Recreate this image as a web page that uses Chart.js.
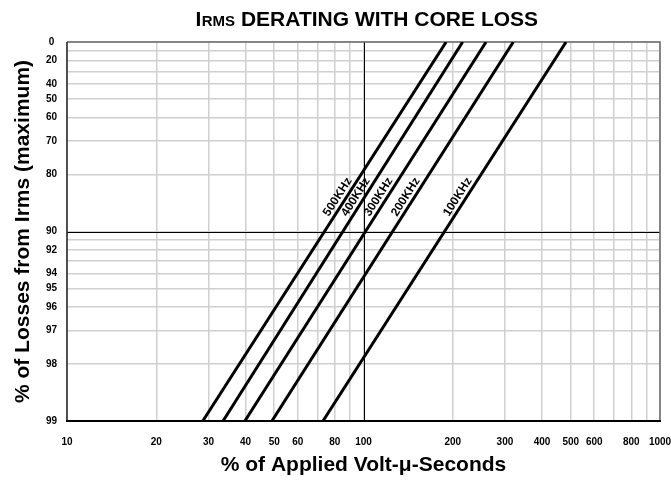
<!DOCTYPE html>
<html>
<head>
<meta charset="utf-8">
<script src="https://cdn.jsdelivr.net/npm/chart.js@4/dist/chart.umd.min.js"></script>
<style>
  html, body { margin: 0; padding: 0; background: #fff; }
  #wrap { width: 671px; height: 481px; }
</style>
</head>
<body>
<div id="wrap"><canvas id="c" width="671" height="481"></canvas></div>
<script>
// ---- data ----
const lossAtEnds = [0, 99];                 // % of losses at the two ends of each line
const volt500 = [190, 28.7];                // % applied volt-µs at those losses
const volt400 = [216, 33.6];
const volt300 = [259, 39.8];
const volt200 = [320, 49.1];
const volt100 = [482, 73.0];
const seriesNames = ['500KHz', '400KHz', '300KHz', '200KHz', '100KHz'];
const labelAtLoss = 85.5;                   // where the frequency labels sit along the lines

const xTickValues = [10, 20, 30, 40, 50, 60, 70, 80, 90, 100, 200, 300, 400, 500, 600, 700, 800, 900, 1000];
const xTickLabels = [10, 20, 30, 40, 50, 60, 80, 100, 200, 300, 400, 500, 600, 800, 1000];
const yTickValues = [0, 10, 20, 30, 40, 50, 60, 70, 80, 90, 91, 92, 93, 94, 95, 96, 97, 98, 99];
const yTickLabels = [0, 20, 40, 50, 60, 70, 80, 90, 92, 94, 95, 96, 97, 98, 99];
const xRefLine = 100;   // dark reference line on the x axis
const yRefLine = 90;    // dark reference line on the loss axis

const chartTitleMain = 'I';
const chartTitleSmall = 'RMS';
const chartTitleRest = ' DERATING WITH CORE LOSS';
const xTitle = '% of Applied Volt-\u03bc-Seconds';
const yTitle = '% of Losses from Irms (maximum)';

const FONT = '"Liberation Sans", Arial, Helvetica, sans-serif';

const allVolts = [volt500, volt400, volt300, volt200, volt100];
const datasets = allVolts.map((arr, k) => ({
  label: seriesNames[k],
  data: arr.map((v, i) => ({ x: v, y: 100 - lossAtEnds[i] })),
  borderColor: '#000',
  borderWidth: 3,
  pointRadius: 0,
  fill: false,
  tension: 0
}));

const titlePlugin = {
  id: 'titlePlugin',
  afterDraw(chart) {
    const ctx = chart.ctx;
    const ca = chart.chartArea;
    ctx.save();
    ctx.fillStyle = '#000';
    ctx.textBaseline = 'alphabetic';
    ctx.textAlign = 'left';
    const big = 'bold 21px ' + FONT, small = 'bold 15px ' + FONT;
    ctx.font = big; const w1 = ctx.measureText(chartTitleMain).width;
    ctx.font = small; const w2 = ctx.measureText(chartTitleSmall).width;
    ctx.font = big; const w3 = ctx.measureText(chartTitleRest).width;
    let x = (ca.left + ca.right) / 2 + 3 - (w1 + w2 + w3) / 2;
    const y = 26;
    ctx.font = big; ctx.fillText(chartTitleMain, x, y); x += w1 + 0.5;
    ctx.font = small; ctx.fillText(chartTitleSmall, x, y); x += w2;
    ctx.font = big; ctx.fillText(chartTitleRest, x, y);
    ctx.restore();
  }
};

const borderPlugin = {
  id: 'borderPlugin',
  beforeDatasetsDraw(chart) {
    const ctx = chart.ctx;
    const { left, right, top, bottom } = chart.chartArea;
    const xs = chart.scales.x, ys = chart.scales.y;
    ctx.save();
    // reference lines
    ctx.lineWidth = 1;
    ctx.strokeStyle = '#000';
    const rx = Math.round(xs.getPixelForValue(xRefLine)) + 0.5;
    const ry = Math.round(ys.getPixelForValue(100 - yRefLine)) + 0.5;
    ctx.beginPath(); ctx.moveTo(rx, top); ctx.lineTo(rx, bottom); ctx.stroke();
    ctx.beginPath(); ctx.moveTo(left, ry); ctx.lineTo(right, ry); ctx.stroke();
    // frame
    ctx.lineWidth = 1.5;
    ctx.strokeStyle = '#6a6a6a';
    ctx.beginPath();
    ctx.moveTo(left, top); ctx.lineTo(right, top); ctx.lineTo(right, bottom);
    ctx.stroke();
    ctx.strokeStyle = '#222';
    ctx.beginPath(); ctx.moveTo(left, top); ctx.lineTo(left, bottom); ctx.stroke();
    ctx.lineWidth = 2;
    ctx.strokeStyle = '#000';
    ctx.beginPath(); ctx.moveTo(left - 1, bottom); ctx.lineTo(right + 1, bottom); ctx.stroke();
    ctx.restore();
  }
};

const lineLabelPlugin = {
  id: 'lineLabelPlugin',
  afterDatasetsDraw(chart) {
    const ctx = chart.ctx;
    const xs = chart.scales.x, ys = chart.scales.y;
    ctx.save();
    ctx.font = 'bold 12px ' + FONT;
    ctx.fillStyle = '#000';
    ctx.textAlign = 'center';
    ctx.textBaseline = 'middle';
    chart.data.datasets.forEach(ds => {
      const p0 = ds.data[0], p1 = ds.data[1];
      const x0 = xs.getPixelForValue(p0.x), y0 = ys.getPixelForValue(p0.y);
      const x1 = xs.getPixelForValue(p1.x), y1 = ys.getPixelForValue(p1.y);
      const ly = ys.getPixelForValue(100 - labelAtLoss);
      const t = (ly - y0) / (y1 - y0);
      const lx = x0 + (x1 - x0) * t;
      const ang = Math.atan2(y0 - y1, x0 - x1); // direction going up-right
      ctx.save();
      ctx.translate(lx, ly);
      ctx.rotate(ang);
      ctx.fillText(ds.label, 0, -7.5);
      ctx.restore();
    });
    ctx.restore();
  }
};

new Chart(document.getElementById('c'), {
  type: 'line',
  data: { datasets },
  plugins: [borderPlugin, lineLabelPlugin, titlePlugin],
  options: {
    responsive: false,
    animation: false,
    events: [],
    layout: { padding: { top: 42, right: 11, left: 0, bottom: 0 } },
    plugins: { legend: { display: false }, tooltip: { enabled: false }, title: { display: false } },
    scales: {
      x: {
        type: 'logarithmic',
        min: 10, max: 1000,
        afterBuildTicks: s => { s.ticks = xTickValues.map(v => ({ value: v })); },
        afterFit: s => { s.height = 60; s.paddingLeft = 0; s.paddingRight = 0; },
        border: { display: false },
        grid: {
          drawTicks: false,
          color: '#d0d0d0',
          lineWidth: 1.5
        },
        ticks: {
          autoSkip: false, maxRotation: 0, minRotation: 0, padding: 15,
          color: '#000',
          font: { family: FONT, size: 10, weight: 'bold' },
          callback: v => xTickLabels.includes(Math.round(v)) ? String(Math.round(v)) : ''
        },
        title: {
          display: true, text: xTitle, color: '#000',
          font: { family: FONT, size: 21, weight: 'bold' },
          padding: { top: 0, bottom: 3 }
        }
      },
      y: {
        type: 'logarithmic',
        min: 1, max: 100,
        afterBuildTicks: s => { s.ticks = yTickValues.map(v => ({ value: 100 - v })); },
        afterFit: s => { s.width = 67; s.paddingTop = 0; s.paddingBottom = 0; },
        border: { display: false },
        grid: {
          drawTicks: false,
          color: '#d0d0d0',
          lineWidth: 1.5
        },
        ticks: {
          autoSkip: false, crossAlign: 'center', padding: 10,
          color: '#000',
          font: { family: FONT, size: 10, weight: 'bold' },
          callback: v => { const l = Math.round(100 - v); return yTickLabels.includes(l) ? String(l) : ''; }
        },
        title: {
          display: true, text: yTitle, color: '#000',
          font: { family: FONT, size: 21, weight: 'bold' },
          padding: { top: 11, bottom: 0 }
        }
      }
    }
  }
});
</script>
</body>
</html>
